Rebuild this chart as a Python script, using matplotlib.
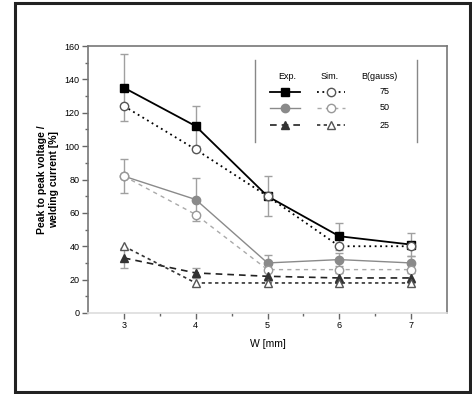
import numpy as np
import matplotlib.pyplot as plt
from matplotlib.patches import Rectangle

plt.rcParams['font.family'] = ['Liberation Sans', 'DejaVu Sans']

# data
w = [3, 4, 5, 6, 7]
exp_75 = [135, 112, 70, 46, 41]
exp_75_err = [20, 12, 12, 8, 7]
sim_75 = [124, 98, 70, 40, 40]
exp_50 = [82, 68, 30, 32, 30]
exp_50_err = [10, 13, 5, 4, 4]
sim_50 = [82, 59, 26, 26, 26]
exp_25 = [33, 24, 22, 21, 21]
exp_25_err = [6, 3, 3, 3, 3]
sim_25 = [40, 18, 18, 18, 18]
b_values = ["75", "50", "25"]

fig = plt.figure(figsize=(4.72, 3.94), dpi=100)
fig.patches.append(Rectangle((15/472, 2/394), 455/472, 389/394, transform=fig.transFigure,
                             fill=False, edgecolor='#222222', linewidth=2.2))
ax = fig.add_axes([88/472, 81/394, 359/472, 267/394])

errc = '#a0a0a0'
for ys, err in [(exp_75, exp_75_err), (exp_50, exp_50_err), (exp_25, exp_25_err)]:
    ax.errorbar(w, ys, yerr=err, fmt='none', ecolor=errc, elinewidth=1, capsize=3, zorder=1)

styles = [
    (exp_75, dict(color='black', ls='-', lw=1.3, marker='s', ms=6, mfc='black', mec='black')),
    (sim_75, dict(color='black', ls=(0, (1, 2)), lw=1.3, marker='o', ms=6, mfc='white', mec='#555555')),
    (exp_50, dict(color='#8a8a8a', ls='-', lw=1.0, marker='o', ms=6, mfc='#8a8a8a', mec='#8a8a8a')),
    (sim_50, dict(color='#aaaaaa', ls=(0, (3, 3)), lw=1.0, marker='o', ms=6, mfc='white', mec='#999999')),
    (exp_25, dict(color='#222222', ls=(0, (4, 3)), lw=1.2, marker='^', ms=6, mfc='#333333', mec='#333333')),
    (sim_25, dict(color='#333333', ls=(0, (2, 2)), lw=1.2, marker='^', ms=6, mfc='white', mec='#555555')),
]
for ys, st in styles:
    ax.plot(w, ys, zorder=3, **st)

ax.set_xlim(2.5, 7.5)
ax.set_ylim(0, 160)
ax.set_xticks(w)
ax.set_xticks(np.arange(3.5, 7, 1), minor=True)
ax.set_yticks(np.arange(0, 161, 20))
ax.set_yticks(np.arange(10, 160, 20), minor=True)
ax.tick_params(axis='both', which='major', labelsize=6.5, length=4, width=1, color='#666666', pad=2)
ax.tick_params(axis='both', which='minor', length=2, width=1, color='#666666')
for side in ['left', 'bottom', 'top', 'right']:
    ax.spines[side].set_color('#777777')
    ax.spines[side].set_linewidth(1.2)
ax.spines['bottom'].set_color('#dddddd')

ax.set_xlabel('W [mm]', fontsize=7.5, labelpad=6)
ax.set_ylabel('Peak to peak voltage /\nwelding current [%]', fontsize=7.5, labelpad=4,
              fontweight='bold')

# legend drawn as a small table
ax.plot([0.465, 0.465], [0.64, 0.948], transform=ax.transAxes, color='#888888', lw=1)
ax.plot([0.916, 0.916], [0.64, 0.948], transform=ax.transAxes, color='#888888', lw=1)
hy = 0.884
ax.text(0.554, hy, 'Exp.', transform=ax.transAxes, ha='center', va='center', fontsize=6.5)
ax.text(0.674, hy, 'Sim.', transform=ax.transAxes, ha='center', va='center', fontsize=6.5)
ax.text(0.813, hy, 'B(gauss)', transform=ax.transAxes, ha='center', va='center', fontsize=6.5)
rows = [0.828, 0.768, 0.704]
line_keys = ('color', 'ls', 'lw')
for i, ry in enumerate(rows):
    es = styles[2 * i][1]
    ss = styles[2 * i + 1][1]
    ax.plot([0.507, 0.591], [ry, ry], transform=ax.transAxes, **{k: es[k] for k in line_keys})
    ax.plot([0.549], [ry], transform=ax.transAxes, marker=es['marker'], ms=6, mfc=es['mfc'], mec=es['mec'], ls='none')
    ax.plot([0.638, 0.716], [ry, ry], transform=ax.transAxes, **{k: ss[k] for k in line_keys})
    ax.plot([0.677], [ry], transform=ax.transAxes, marker=ss['marker'], ms=6, mfc=ss['mfc'], mec=ss['mec'], ls='none')
    ax.text(0.827, ry, b_values[i], transform=ax.transAxes, ha='center', va='center', fontsize=6.5)

fig.savefig('out.png', dpi=100)
